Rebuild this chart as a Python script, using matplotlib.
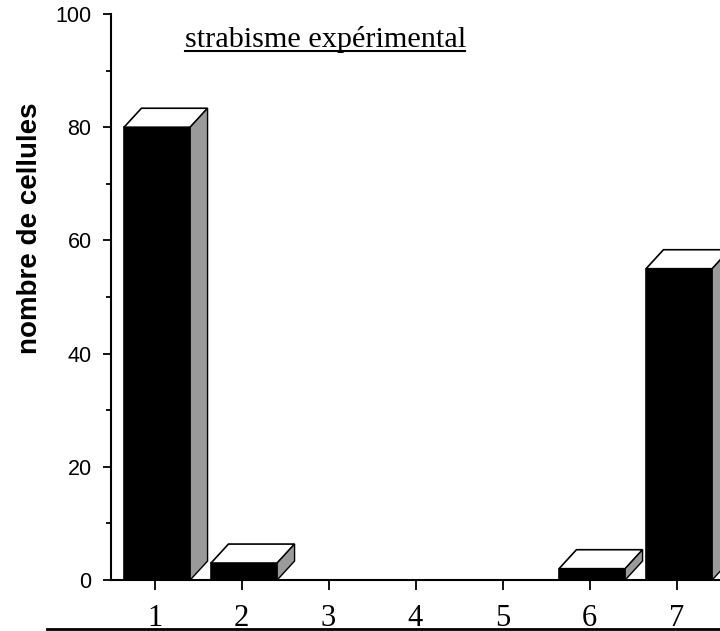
import matplotlib
matplotlib.use("Agg")
import matplotlib.pyplot as plt
from matplotlib.patches import Rectangle, Polygon
from matplotlib.lines import Line2D
from matplotlib.ticker import MultipleLocator

# data
groupes = [1, 2, 3, 4, 5, 6, 7]
cellules = [80, 3, 0, 0, 0, 2, 55]
titre = "strabisme expérimental"
ylabel = "nombre de cellules"

fig = plt.figure(figsize=(7.2, 6.31), dpi=100)
ax = fig.add_axes([111/720, 51/631, 609/720, 566/631])
ax.set_xlim(0.5, 7.5)
ax.set_ylim(0, 100)

# pseudo 3D bars
w = 0.76
dx = 0.2
dy = 3.35
for x, v in zip(groupes, cellules):
    if v <= 0:
        continue
    x0 = x - 0.35
    ax.add_patch(Rectangle((x0, 0), w, v, facecolor="black", edgecolor="black", lw=1.2, clip_on=False))
    ax.add_patch(Polygon([(x0, v), (x0 + w, v), (x0 + w + dx, v + dy), (x0 + dx, v + dy)],
                         closed=True, facecolor="white", edgecolor="black", lw=1.2, clip_on=False))
    ax.add_patch(Polygon([(x0 + w, 0), (x0 + w + dx, dy), (x0 + w + dx, v + dy), (x0 + w, v)],
                         closed=True, facecolor="#9a9a9a", edgecolor="black", lw=1.0, clip_on=False))

for s in ["top", "right"]:
    ax.spines[s].set_visible(False)
ax.spines["left"].set_linewidth(1.5)
ax.spines["bottom"].set_linewidth(1.5)

ax.yaxis.set_major_locator(MultipleLocator(20))
ax.yaxis.set_minor_locator(MultipleLocator(10))
ax.tick_params(axis="y", which="major", length=6, width=1.3, pad=8, labelsize=15.5)
ax.tick_params(axis="y", which="minor", length=3.6, width=1.3)
for lab in ax.get_yticklabels():
    lab.set_fontfamily("Liberation Sans")

ax.set_xticks(groupes)
ax.set_xticklabels([str(g) for g in groupes], fontfamily="Liberation Serif", fontsize=22)
ax.tick_params(axis="x", length=7, width=1.3, pad=10)

fig.text(30/720, 1 - 228/631, ylabel, rotation=90, ha="center", va="center",
         fontsize=20, fontweight="bold", fontfamily="Liberation Sans")

fig.text(185/720, 1 - 47/631, titre, ha="left", va="baseline",
         fontsize=21.8, fontfamily="Liberation Serif")
fig.add_artist(Line2D([185/720, 465/720], [1 - 51/631, 1 - 51/631], color="black", lw=1.5))

fig.add_artist(Line2D([47/720, 1.0], [2/631, 2/631], color="black", lw=2))

fig.savefig("out.png", dpi=100)
